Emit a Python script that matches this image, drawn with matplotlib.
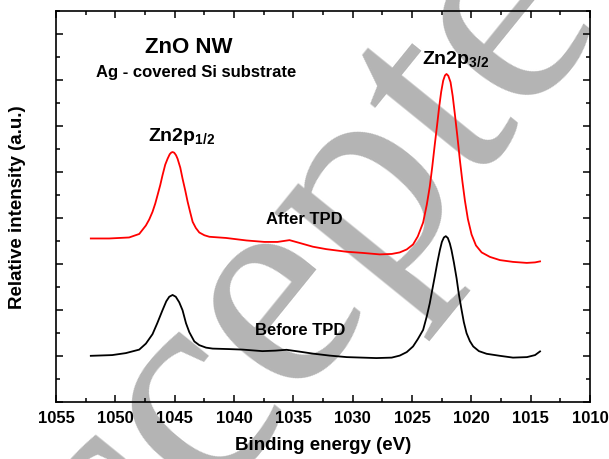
import numpy as np
import matplotlib
matplotlib.use('Agg')
import matplotlib.pyplot as plt
from matplotlib.ticker import MultipleLocator

plt.rcParams['font.family'] = ['Liberation Sans', 'DejaVu Sans']
plt.rcParams['font.weight'] = 'bold'
plt.rcParams['mathtext.fontset'] = 'custom'
plt.rcParams['mathtext.rm'] = 'Liberation Sans:bold'
plt.rcParams['mathtext.bf'] = 'Liberation Sans:bold'

# XPS Zn2p spectra
after_e = [1052.07, 1050.52, 1048.84, 1047.99, 1047.43, 1047.15, 1046.87, 1046.64,
           1046.45, 1046.22, 1046.03, 1045.80, 1045.60, 1045.42, 1045.29, 1045.18,
           1045.04, 1044.89, 1044.76, 1044.53, 1044.34, 1044.11, 1043.91, 1043.69,
           1043.49, 1043.22, 1042.93, 1042.50, 1042.08, 1040.67, 1038.96, 1037.44,
           1036.34, 1035.33, 1034.48, 1033.36, 1032.23, 1030.54, 1029.16, 1027.73,
           1026.71, 1026.04, 1025.45, 1024.92, 1024.52, 1024.07, 1023.76, 1023.51,
           1023.30, 1023.09, 1022.90, 1022.72, 1022.55, 1022.38, 1022.23, 1022.10,
           1021.95, 1021.76, 1021.58, 1021.40, 1021.18, 1020.97, 1020.76, 1020.55,
           1020.30, 1019.99, 1019.62, 1019.14, 1018.44, 1017.60, 1016.50, 1015.34,
           1014.64, 1014.22]
after_i = [3.554, 3.554, 3.576, 3.652, 3.836, 3.966, 4.133, 4.313,
           4.493, 4.714, 4.926, 5.158, 5.288, 5.386, 5.422, 5.433,
           5.418, 5.364, 5.288, 5.093, 4.855, 4.595, 4.350, 4.118,
           3.916, 3.782, 3.684, 3.624, 3.591, 3.565, 3.511, 3.479,
           3.479, 3.518, 3.457, 3.375, 3.322, 3.266, 3.240, 3.208,
           3.218, 3.251, 3.316, 3.424, 3.598, 3.901, 4.291, 4.681,
           5.115, 5.592, 6.003, 6.409, 6.740, 6.985, 7.098, 7.130,
           7.091, 6.951, 6.654, 6.264, 5.765, 5.251, 4.790, 4.378,
           3.977, 3.641, 3.403, 3.251, 3.153, 3.084, 3.045, 3.023,
           3.034, 3.056]

before_e = [1052.07, 1050.27, 1049.12, 1047.99, 1047.43, 1046.87, 1046.47, 1046.03,
            1045.71, 1045.46, 1045.18, 1044.91, 1044.62, 1044.34, 1044.05, 1043.77,
            1043.35, 1042.93, 1042.36, 1041.80, 1040.39, 1039.27, 1037.61, 1036.51,
            1035.58, 1034.48, 1033.36, 1031.95, 1030.51, 1028.01, 1026.72, 1026.04,
            1025.45, 1024.92, 1024.52, 1024.07, 1023.76, 1023.51, 1023.30, 1023.09,
            1022.87, 1022.66, 1022.49, 1022.32, 1022.16, 1021.99, 1021.82, 1021.68,
            1021.48, 1021.25, 1021.06, 1020.83, 1020.64, 1020.41, 1020.13, 1019.85,
            1019.37, 1018.72, 1017.60, 1016.50, 1015.32, 1014.64, 1014.22]
before_i = [1.003, 1.019, 1.062, 1.138, 1.268, 1.474, 1.712, 1.994,
            2.189, 2.287, 2.326, 2.287, 2.167, 1.994, 1.712, 1.517,
            1.316, 1.235, 1.181, 1.160, 1.149, 1.138, 1.105, 1.116,
            1.134, 1.094, 1.051, 1.008, 0.975, 0.954, 0.964, 1.008,
            1.084, 1.207, 1.365, 1.567, 1.864, 2.146, 2.438, 2.724,
            3.034, 3.301, 3.479, 3.576, 3.604, 3.565, 3.446, 3.301,
            3.034, 2.687, 2.341, 2.000, 1.734, 1.495, 1.322, 1.207,
            1.105, 1.047, 1.003, 0.964, 0.975, 1.019, 1.099]

fig = plt.figure(figsize=(6.09, 4.60), dpi=100)
ax = fig.add_axes([0.092, 0.124, 0.877, 0.850])
ax.set_zorder(1)
ax.patch.set_alpha(0)

# grey watermark, drawn behind the axes
fig.text(0.566, 0.26, 'Accepted', fontsize=215, color='#b4b4b4',
         family='Liberation Serif', weight='normal',
         rotation=51, ha='center', va='baseline', rotation_mode='anchor', zorder=0)

ax.plot(after_e, after_i, color='#ff0000', lw=1.3)
ax.plot(before_e, before_i, color='black', lw=1.3)

ax.set_xlim(1055, 1010)
ax.set_ylim(0, 8.5)
ax.xaxis.set_major_locator(MultipleLocator(5))
ax.xaxis.set_minor_locator(MultipleLocator(2.5))
ax.yaxis.set_major_locator(MultipleLocator(1))
ax.yaxis.set_minor_locator(MultipleLocator(0.5))
ax.tick_params(which='both', direction='in', top=True, right=True, width=1.1)
ax.tick_params(which='major', length=5)
ax.tick_params(which='minor', length=3)
ax.tick_params(axis='x', labelsize=12, pad=6)
ax.set_yticklabels([])
for s in ax.spines.values():
    s.set_linewidth(1.2)

ax.set_xlabel('Binding energy (eV)', fontsize=13.5, fontweight='bold', labelpad=8)
ax.set_ylabel('Relative intensity (a.u.)', fontsize=13.5, fontweight='bold', labelpad=18)

ax.text(1043.8, 7.72, 'ZnO NW', fontsize=16, ha='center', va='center')
ax.text(1043.2, 7.18, 'Ag - covered Si substrate', fontsize=12, ha='center', va='center')
ax.text(1044.4, 5.79, r'Zn2p$_{\mathbf{1/2}}$', fontsize=14, ha='center', va='center')
ax.text(1021.3, 7.46, r'Zn2p$_{\mathbf{3/2}}$', fontsize=14, ha='center', va='center')
ax.text(1034.1, 3.99, 'After TPD', fontsize=12, ha='center', va='center')
ax.text(1034.4, 1.58, 'Before TPD', fontsize=12, ha='center', va='center')

fig.savefig('out.png', dpi=100)
